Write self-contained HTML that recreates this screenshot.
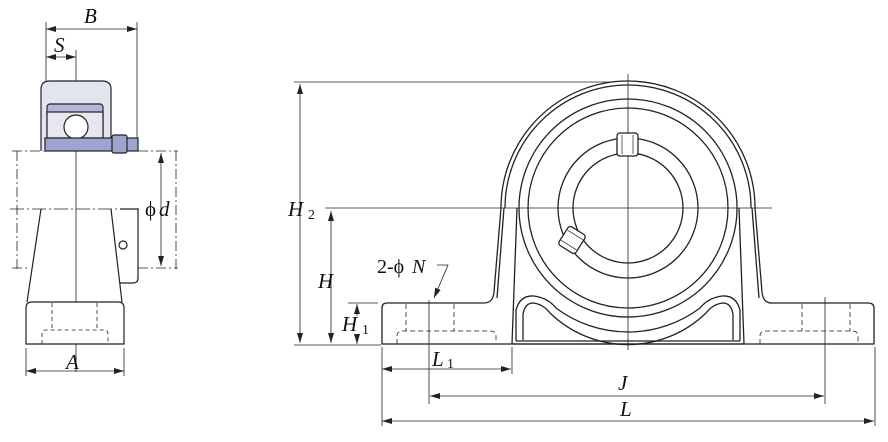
<!DOCTYPE html>
<html><head><meta charset="utf-8"><style>
html,body{margin:0;padding:0;background:#fff;}
svg{display:block;}
text{font-family:"Liberation Serif",serif;font-style:italic;fill:#111;}
text.n{font-style:normal;}
</style></head><body>
<svg width="888" height="442" viewBox="0 0 888 442" xmlns="http://www.w3.org/2000/svg">
<defs>
<marker id="a" viewBox="0 0 10 6" refX="10" refY="3" markerWidth="10" markerHeight="6" orient="auto-start-reverse" markerUnits="userSpaceOnUse"><path d="M0,0 L10,3 L0,6 z" fill="#222"/></marker>
</defs>
<g stroke="#222" fill="none" stroke-width="0.8">
<line x1="46" y1="22" x2="46" y2="150"/>
<line x1="137" y1="22" x2="137" y2="138"/>
<line x1="46" y1="29" x2="137" y2="29" marker-start="url(#a)" marker-end="url(#a)"/>
<line x1="46" y1="57" x2="76" y2="57" marker-start="url(#a)" marker-end="url(#a)"/>
<line x1="76" y1="50" x2="76" y2="372"/>
<line x1="12" y1="151" x2="178" y2="151" stroke-dasharray="10,3,2,3"/>
<line x1="12" y1="268" x2="30" y2="268" stroke-dasharray="10,3,2,3"/>
<line x1="138" y1="268" x2="178" y2="268" stroke-dasharray="10,3,2,3"/>
<line x1="17" y1="151" x2="17" y2="270" stroke-dasharray="10,3,2,3"/>
<line x1="176" y1="151" x2="176" y2="270" stroke-dasharray="10,3,2,3"/>
<line x1="10" y1="209" x2="142" y2="209" stroke-dasharray="14,3,2,3"/>
<line x1="161" y1="153" x2="161" y2="266" marker-start="url(#a)" marker-end="url(#a)"/>
<line x1="26" y1="348" x2="26" y2="376"/>
<line x1="124" y1="348" x2="124" y2="376"/>
<line x1="26" y1="371" x2="124" y2="371" marker-start="url(#a)" marker-end="url(#a)"/>
</g>
<g stroke="#222" stroke-width="1.2">
<path d="M41,151 L41,89 Q41,81 50,81 L102,81 Q111,81 111,89 L111,151" fill="#e3e5ee"/>
<rect x="47" y="104" width="56" height="34" rx="3" fill="#b3b8d9"/>
<rect x="47" y="112" width="56" height="26" fill="#e6e7f0"/>
<circle cx="76" cy="127" r="12" fill="#fff"/>
<rect x="45" y="138" width="93" height="13" fill="#9da4cf"/>
<rect x="112" y="135" width="15" height="18" rx="2" fill="#9da4cf"/>
<path d="M41,209 L27,302 M111,209 L122,302" fill="none"/>
<path d="M120,209 L138,209 L138,278 Q138,283 133,283 L120,283" fill="none"/>
<circle cx="123" cy="245" r="4" fill="none"/>
<path d="M26,344 L26,308 Q26,302 32,302 L118,302 Q124,302 124,308 L124,344 Z" fill="#fff"/>
</g>
<g stroke="#222" stroke-width="0.8" fill="none" stroke-dasharray="4,3">
<path d="M52,303 L52,330 M97,303 L97,330 M42,344 L42,334 Q42,330 46,330 L104,330 Q108,330 108,334 L108,344"/>
</g>

<g stroke="#222" fill="none" stroke-width="0.8">
<line x1="294" y1="82" x2="610" y2="82"/>
<line x1="300" y1="84" x2="300" y2="343" marker-start="url(#a)" marker-end="url(#a)"/>
<line x1="325" y1="208" x2="772" y2="208"/>
<line x1="331" y1="211" x2="331" y2="343" marker-start="url(#a)" marker-end="url(#a)"/>
<line x1="348" y1="303" x2="378" y2="303"/>
<line x1="357" y1="304" x2="357" y2="316" marker-start="url(#a)"/>
<line x1="357" y1="334" x2="357" y2="344" marker-end="url(#a)"/>
<line x1="294" y1="345" x2="381" y2="345"/>
<line x1="628" y1="74" x2="628" y2="350"/>
<line x1="382" y1="347" x2="382" y2="426"/>
<line x1="512" y1="347" x2="512" y2="374"/>
<line x1="429" y1="300" x2="429" y2="404"/>
<line x1="825" y1="297" x2="825" y2="404"/>
<line x1="875" y1="347" x2="875" y2="426"/>
<line x1="382" y1="369" x2="511" y2="369" marker-start="url(#a)" marker-end="url(#a)"/>
<line x1="430" y1="396" x2="824" y2="396" marker-start="url(#a)" marker-end="url(#a)"/>
<line x1="382" y1="421" x2="874" y2="421" marker-start="url(#a)" marker-end="url(#a)"/>
<path d="M437,265 L448,265 L434,298" marker-end="url(#a)"/>
</g>
<g stroke="#222" fill="none" stroke-width="1.3">
<path d="M382,344 L382,308 Q382,303 387,303 L484,303 Q493,303 494,292 L501,208 A127,127 0 0 1 755,208 L762,292 Q763,303 772,303 L868,303 Q874,303 874,308 L874,344 Z"/>
<path d="M505,208 A123,123 0 0 1 751,208" />
<path d="M497,298 L504,208 M759,298 L752,208"/>
<path d="M512,344 L517,208 M744,344 L739,208"/>
<path d="M512,344 L744,344"/>
<path d="M516,341 L740,341"/>
<circle cx="628" cy="208" r="109"/>
<circle cx="628" cy="208" r="100"/>
<circle cx="628" cy="208" r="70"/>
<circle cx="628" cy="208" r="55"/>
<path d="M516,341 L516,310 Q520,295 534,296 Q548,298 556,308 A120,120 0 0 0 700,308 Q708,298 722,296 Q736,295 740,310 L740,341"/>
<path d="M523,340 L523,314 Q525,303 533,303 Q543,304 550,313 A112,112 0 0 0 706,313 Q713,304 723,303 Q731,303 733,314 L733,340"/>
<rect x="617" y="133" width="21" height="23" rx="3" fill="#fff"/>
<rect x="-11" y="-10" width="22" height="20" rx="3" transform="translate(572,240) rotate(-58)" fill="#fff"/>
</g>
<g stroke="#222" stroke-width="0.7" fill="none">
<line x1="622" y1="135" x2="622" y2="154"/><line x1="633" y1="135" x2="633" y2="154"/>
<g transform="translate(572,240) rotate(-58)"><line x1="-6" y1="-9" x2="-6" y2="9"/><line x1="6" y1="-9" x2="6" y2="9"/></g>
</g>
<g stroke="#222" stroke-width="0.8" fill="none" stroke-dasharray="5,3">
<path d="M406,304 L406,331 M454,304 L454,331 M397,344 L397,336 Q397,331 403,331 L490,331 Q496,331 496,336 L496,344"/>
<path d="M802,304 L802,331 M850,304 L850,331 M760,344 L760,336 Q760,331 766,331 L852,331 Q858,331 858,336 L858,344"/>
</g>

<text x="84" y="23" font-size="21">B</text>
<text x="54" y="52" font-size="21">S</text>
<text x="145" y="216" font-size="21" class="n">ϕ</text><text x="159" y="216" font-size="21">d</text>
<text x="66" y="369" font-size="21">A</text>
<text x="288" y="216" font-size="21">H</text><text x="308" y="219" font-size="14" class="n">2</text>
<text x="318" y="288" font-size="21">H</text>
<text x="342" y="331" font-size="21">H</text><text x="362" y="334" font-size="14" class="n">1</text>
<text x="377" y="273" font-size="20" class="n">2-ϕ</text><text x="412" y="273" font-size="20">N</text>
<text x="432" y="366" font-size="21">L</text><text x="447" y="368" font-size="14" class="n">1</text>
<text x="618" y="390" font-size="21">J</text>
<text x="620" y="416" font-size="21">L</text>
</svg>
</body></html>
